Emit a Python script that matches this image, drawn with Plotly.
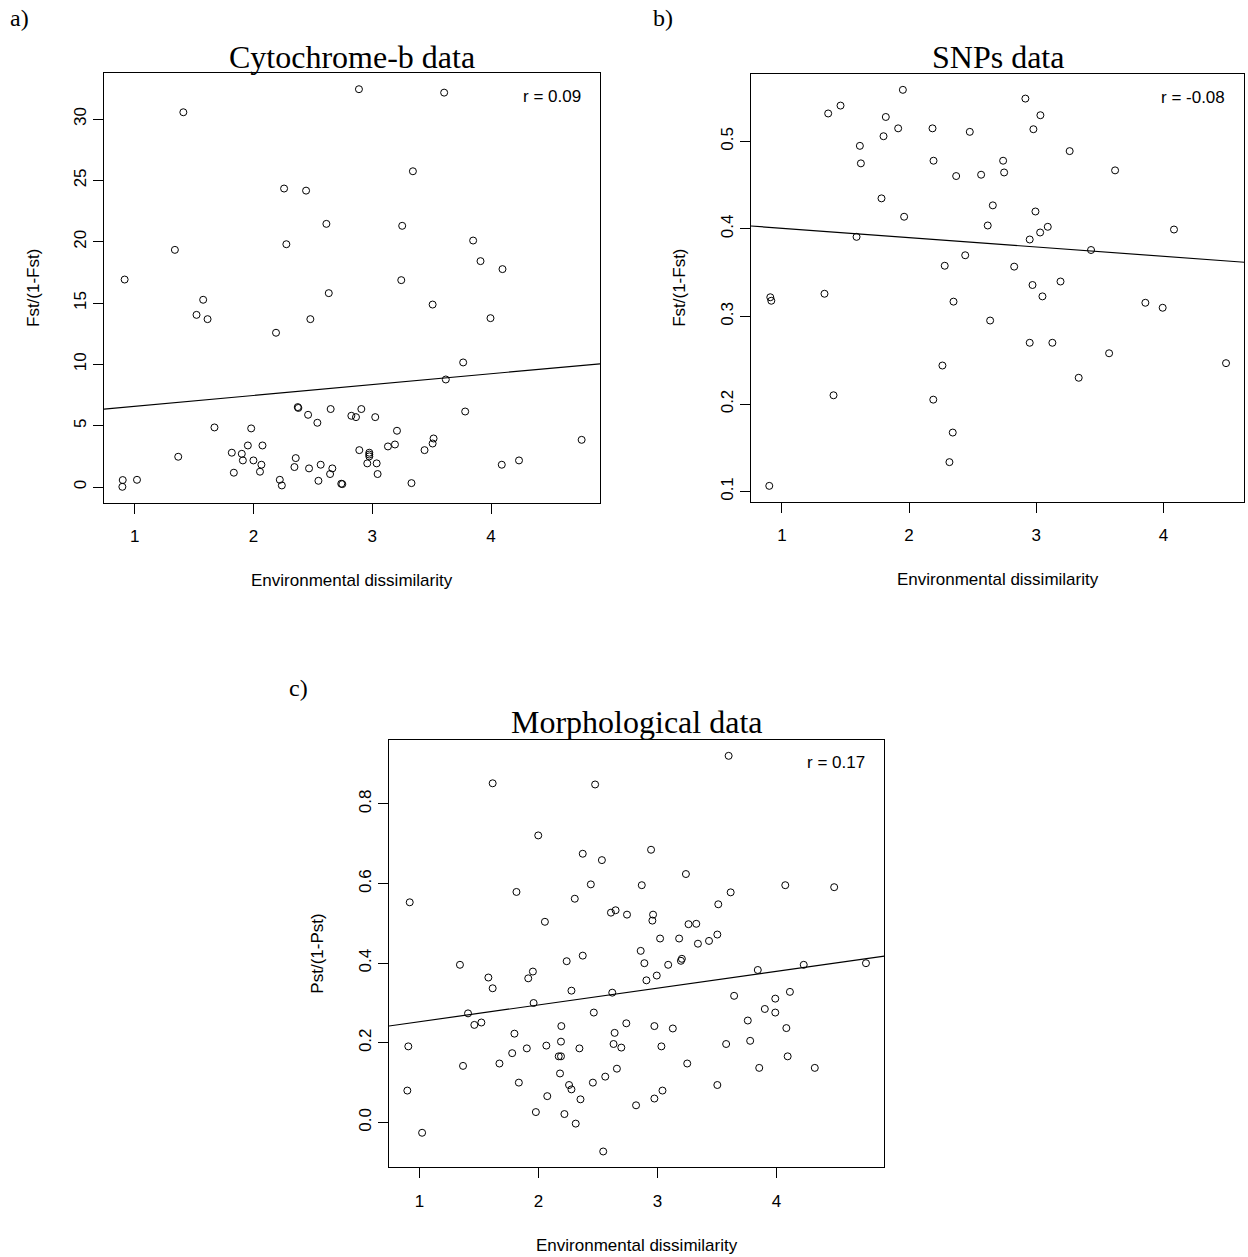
import plotly.graph_objects as go

# ---- Cytochrome-b: environmental dissimilarity vs Fst/(1-Fst) ----
cyt_env = [0.897, 0.900, 1.020, 0.916, 1.339, 1.410, 1.367, 1.521, 1.577, 1.614,
           1.672, 1.818, 1.835, 1.902, 1.911, 1.953, 1.981, 2.000, 2.055, 2.067,
           2.076, 2.190, 2.222, 2.239, 2.258, 2.277, 2.345, 2.356, 2.373, 2.378,
           2.443, 2.460, 2.468, 2.479, 2.538, 2.547, 2.566, 2.614, 2.634, 2.645,
           2.650, 2.664, 2.739, 2.748, 2.824, 2.863, 2.888, 2.891, 2.908, 2.958,
           2.975, 2.975, 2.975, 3.025, 3.037, 3.045, 3.132, 3.191, 3.208, 3.244,
           3.252, 3.330, 3.342, 3.440, 3.508, 3.508, 3.516, 3.605, 3.619, 3.765,
           3.782, 3.849, 3.911, 3.995, 4.096, 4.090, 4.235, 4.762]
cyt_fst = [0.02, 0.57, 0.59, 16.92, 19.34, 30.56, 2.47, 14.04, 15.27, 13.69,
           4.86, 2.80, 1.17, 2.71, 2.17, 3.39, 4.78, 2.17, 1.25, 1.82,
           3.39, 12.58, 0.59, 0.13, 24.34, 19.80, 1.63, 2.36, 6.52, 6.45,
           24.17, 5.89, 1.52, 13.69, 5.24, 0.51, 1.82, 21.46, 15.81, 1.06,
           6.36, 1.52, 0.27, 0.24, 5.81, 5.70, 32.44, 3.01, 6.36, 1.93,
           2.80, 2.65, 2.50, 5.70, 1.93, 1.06, 3.31, 3.47, 4.59, 16.87,
           21.30, 0.32, 25.75, 3.01, 14.88, 3.55, 3.96, 32.16, 8.77, 10.16,
           6.16, 20.10, 18.42, 13.77, 17.77, 1.82, 2.17, 3.85]
cyt_fit = (5.69, 0.887)          # intercept, slope
cyt_r = "r = 0.09"

# ---- SNPs: environmental dissimilarity vs Fst/(1-Fst) ----
snp_env = [0.901, 0.909, 0.917, 1.335, 1.364, 1.406, 1.461, 1.587, 1.613, 1.621,
           1.783, 1.799, 1.817, 1.914, 1.951, 1.961, 2.184, 2.190, 2.192, 2.262,
           2.280, 2.317, 2.343, 2.349, 2.370, 2.441, 2.477, 2.566, 2.618, 2.637,
           2.658, 2.739, 2.747, 2.826, 2.914, 2.948, 2.948, 2.970, 2.977, 2.993,
           3.030, 3.032, 3.048, 3.090, 3.126, 3.190, 3.262, 3.333, 3.430, 3.572,
           3.619, 3.857, 3.993, 4.082, 4.491]
snp_fst = [0.1065, 0.322, 0.318, 0.326, 0.532, 0.210, 0.541, 0.391, 0.495, 0.475,
           0.435, 0.506, 0.528, 0.515, 0.559, 0.414, 0.515, 0.205, 0.478, 0.244,
           0.358, 0.1336, 0.1674, 0.317, 0.4605, 0.370, 0.511, 0.462, 0.404, 0.2954,
           0.427, 0.478, 0.4646, 0.357, 0.549, 0.388, 0.270, 0.336, 0.514, 0.420,
           0.396, 0.530, 0.323, 0.4025, 0.270, 0.340, 0.489, 0.230, 0.376, 0.258,
           0.467, 0.3157, 0.310, 0.3994, 0.2467]
snp_fit = (0.4115, -0.01068)
snp_r = "r = -0.08"

# ---- Morphology: environmental dissimilarity vs Pst/(1-Pst) ----
morph_env = [0.897, 0.905, 0.917, 1.021, 1.339, 1.365, 1.407, 1.460, 1.519, 1.578,
             1.614, 1.614, 1.671, 1.778, 1.797, 1.814, 1.834, 1.901, 1.913, 1.952,
             1.958, 1.977, 1.997, 2.053, 2.065, 2.073, 2.169, 2.180, 2.188, 2.188,
             2.191, 2.217, 2.236, 2.256, 2.276, 2.276, 2.304, 2.312, 2.343, 2.352,
             2.371, 2.371, 2.439, 2.456, 2.464, 2.475, 2.532, 2.543, 2.560, 2.608,
             2.619, 2.630, 2.639, 2.647, 2.658, 2.695, 2.737, 2.743, 2.819, 2.858,
             2.867, 2.889, 2.906, 2.945, 2.956, 2.962, 2.973, 2.973, 2.993, 3.021,
             3.032, 3.041, 3.089, 3.128, 3.181, 3.196, 3.204, 3.238, 3.249, 3.260,
             3.325, 3.339, 3.432, 3.502, 3.502, 3.510, 3.576, 3.597, 3.614, 3.643,
             3.758, 3.778, 3.842, 3.854, 3.901, 3.989, 3.989, 4.073, 4.082, 4.093,
             4.112, 4.228, 4.321, 4.484, 4.751]
morph_pst = [0.080, 0.191, 0.553, -0.026, 0.396, 0.142, 0.274, 0.245, 0.251, 0.364,
             0.337, 0.852, 0.148, 0.174, 0.223, 0.579, 0.100, 0.186, 0.362, 0.379,
             0.300, 0.026, 0.721, 0.504, 0.193, 0.066, 0.166, 0.123, 0.166, 0.203,
             0.242, 0.021, 0.405, 0.094, 0.331, 0.083, 0.562, -0.003, 0.186, 0.058,
             0.419, 0.675, 0.598, 0.100, 0.276, 0.849, 0.659, -0.073, 0.115, 0.527,
             0.326, 0.197, 0.225, 0.533, 0.135, 0.188, 0.249, 0.522, 0.043, 0.431,
             0.596, 0.400, 0.357, 0.685, 0.507, 0.522, 0.242, 0.060, 0.369, 0.462,
             0.191, 0.080, 0.396, 0.236, 0.462, 0.406, 0.411, 0.624, 0.148, 0.498,
             0.499, 0.449, 0.456, 0.472, 0.094, 0.548, 0.197, 0.921, 0.578, 0.318,
             0.256, 0.205, 0.383, 0.137, 0.285, 0.311, 0.276, 0.596, 0.237, 0.166,
             0.328, 0.396, 0.137, 0.591, 0.400]
morph_fit = (0.2108, 0.0422)
morph_r = "r = 0.17"

W, H = 1248, 1257
SANS = "Liberation Sans, Arial, sans-serif"
SERIF = "Liberation Serif, Times New Roman, serif"
FS = 17


def px(x):
    return x / W


def py(y):
    return 1 - y / H


def r_range(vals):
    lo, hi = min(vals), max(vals)
    pad = 0.04 * (hi - lo)
    return [lo - pad, hi + pad]


panels = [
    dict(x=cyt_env, y=cyt_fst, fit=cyt_fit, r=cyt_r, ytitle="Fst/(1-Fst)",
         title="Cytochrome-b data", tag="a)", box=(104, 600, 73.3, 502.7),
         ytick=dict(tick0=0, dtick=5, tickformat="d"), tagpos=(8, 18), titley=57),
    dict(x=snp_env, y=snp_fst, fit=snp_fit, r=snp_r, ytitle="Fst/(1-Fst)",
         title="SNPs data", tag="b)", box=(751, 1244.3, 74, 501.7),
         ytick=dict(tick0=0.1, dtick=0.1, tickformat=".1f"), tagpos=(651, 18), titley=57),
    dict(x=morph_env, y=morph_pst, fit=morph_fit, r=morph_r, ytitle="Pst/(1-Pst)",
         title="Morphological data", tag="c)", box=(389, 884.3, 740, 1167.3),
         ytick=dict(tick0=0, dtick=0.2, tickformat=".1f"), tagpos=(287, 688), titley=722),
]

fig = go.Figure()
annotations = []

for i, p in enumerate(panels, start=1):
    xa = "x" if i == 1 else f"x{i}"
    ya = "y" if i == 1 else f"y{i}"
    x0, x1, y0, y1 = p["box"]
    xr = r_range(p["x"])
    yr = r_range(p["y"])

    fig.add_trace(go.Scatter(
        x=p["x"], y=p["y"], mode="markers", xaxis=xa, yaxis=ya,
        marker=dict(symbol="circle-open", size=7, color="black",
                    line=dict(width=1, color="black")),
        showlegend=False, hoverinfo="skip"))

    a, b = p["fit"]
    fig.add_trace(go.Scatter(
        x=xr, y=[a + b * xr[0], a + b * xr[1]], mode="lines",
        xaxis=xa, yaxis=ya, line=dict(color="black", width=1.2),
        showlegend=False, hoverinfo="skip"))

    axis_common = dict(showline=True, mirror=True, linecolor="black", linewidth=1,
                       ticks="outside", ticklen=10, tickwidth=1, tickcolor="black",
                       showgrid=False, zeroline=False,
                       tickfont=dict(family=SANS, size=FS, color="black"))
    fig.update_layout(**{
        ("xaxis" if i == 1 else f"xaxis{i}"): dict(
            domain=[px(x0), px(x1)], range=xr, anchor=ya,
            tick0=1, dtick=1, ticklabelstandoff=8, **axis_common),
        ("yaxis" if i == 1 else f"yaxis{i}"): dict(
            domain=[py(y1), py(y0)], range=yr, anchor=xa,
            tickangle=-90, ticklabelstandoff=0, **p["ytick"], **axis_common),
    })

    cx = (x0 + x1) / 2
    cy = (y0 + y1) / 2
    # panel title
    annotations.append(dict(text=p["title"], x=px(cx), y=py(p["titley"]),
                            xref="paper", yref="paper",
                            showarrow=False, xanchor="center", yanchor="middle",
                            font=dict(family=SERIF, size=32, color="black")))
    # panel tag
    annotations.append(dict(text=p["tag"], x=px(p["tagpos"][0]), y=py(p["tagpos"][1]),
                            xref="paper", yref="paper", showarrow=False,
                            xanchor="left", yanchor="middle",
                            font=dict(family=SERIF, size=24, color="black")))
    # axis titles
    annotations.append(dict(text="Environmental dissimilarity", x=px(cx), y=py(y1 + 78),
                            xref="paper", yref="paper", showarrow=False,
                            xanchor="center", yanchor="middle",
                            font=dict(family=SANS, size=FS, color="black")))
    annotations.append(dict(text=p["ytitle"], x=px(x0 - 71), y=py(cy),
                            xref="paper", yref="paper", showarrow=False, textangle=-90,
                            xanchor="center", yanchor="middle",
                            font=dict(family=SANS, size=FS, color="black")))
    # correlation coefficient
    annotations.append(dict(text=p["r"], x=px(x1 - 17), y=py(y0 + 23),
                            xref="paper", yref="paper", showarrow=False,
                            xanchor="right", yanchor="middle",
                            font=dict(family=SANS, size=FS, color="black")))

fig.update_layout(width=W, height=H, autosize=False,
                  margin=dict(l=0, r=0, t=0, b=0),
                  paper_bgcolor="white", plot_bgcolor="white",
                  annotations=annotations)

fig.write_html("out.html")
